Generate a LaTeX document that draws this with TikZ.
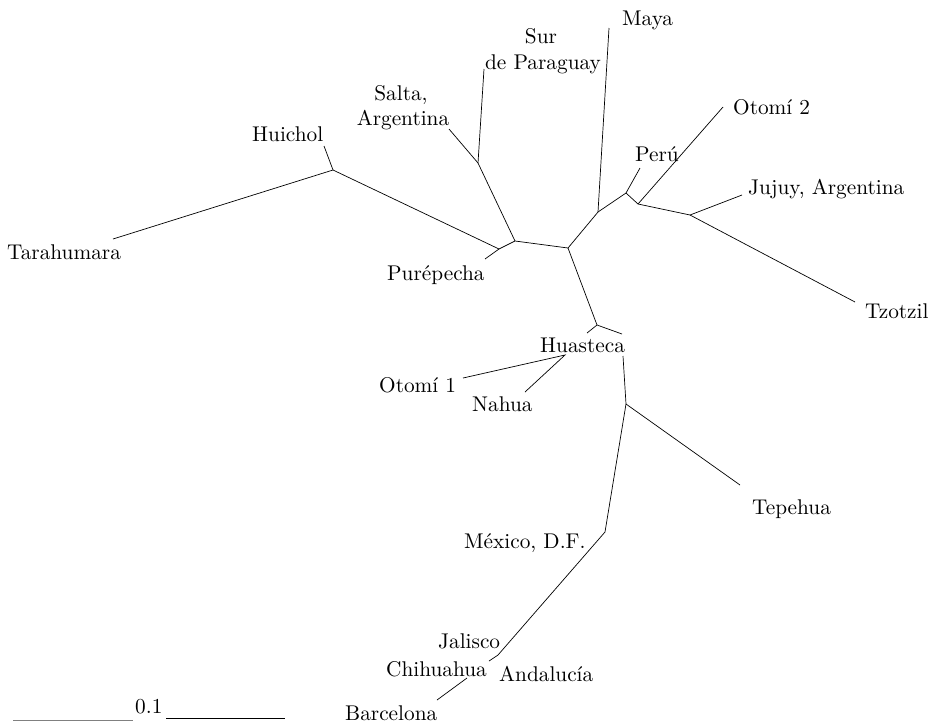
\documentclass[tikz,border=0pt]{standalone}
\usepackage{fontspec}
\setmainfont{lmroman10-regular.otf}
\begin{document}
\begin{tikzpicture}[x=1pt,y=-1pt,
  branch/.style={line width=0.7pt, black},
  lbl/.style={inner sep=0pt, font=\fontsize{21.3}{25}\selectfont},
  lw/.style={lbl, anchor=base west},
  lc/.style={lbl, anchor=base}]
\useasboundingbox (0,0) rectangle (934,724);
% coordinates
\coordinate (tara) at (113,239);
\coordinate (hui) at (333,170);
\coordinate (huileaf) at (324,146);
\coordinate (purj) at (499,249);
\coordinate (purleaf) at (485,259);
\coordinate (p1) at (515,241);
\coordinate (sp) at (478,163);
\coordinate (salta) at (449,129);
\coordinate (para) at (484,69);
\coordinate (c) at (568,248);
\coordinate (m) at (598,212);
\coordinate (maya) at (609,28);
\coordinate (pj) at (626,193);
\coordinate (peru) at (640,168);
\coordinate (o2j) at (638,204);
\coordinate (oto2) at (723,107);
\coordinate (jj) at (690,215);
\coordinate (jujuy) at (742,195);
\coordinate (tzo) at (855,302);
\coordinate (hj) at (597,325);
\coordinate (hleft) at (587,333);
\coordinate (hright) at (622,334);
\coordinate (hdown) at (623,356);
\coordinate (on) at (565,355);
\coordinate (oto1) at (463,378);
\coordinate (nahua) at (525,392);
\coordinate (tj) at (626,404);
\coordinate (tepe) at (740,485);
\coordinate (mx) at (605,532);
\coordinate (jal) at (498,655);
\coordinate (jal2) at (489,661);
\coordinate (chi) at (467,678);
\coordinate (bar) at (437,700);
\coordinate (s1a) at (13,720);
\coordinate (s1b) at (133,720);
\coordinate (s2a) at (166,718);
\coordinate (s2b) at (285,718);
% branches
\draw[branch] (tara) -- (hui) -- (purj) -- (p1) -- (c) -- (m) -- (pj) -- (o2j) -- (jj) -- (tzo);
\draw[branch] (hui) -- (huileaf);
\draw[branch] (purj) -- (purleaf);
\draw[branch] (p1) -- (sp) -- (para);
\draw[branch] (sp) -- (salta);
\draw[branch] (m) -- (maya);
\draw[branch] (pj) -- (peru);
\draw[branch] (o2j) -- (oto2);
\draw[branch] (jj) -- (jujuy);
\draw[branch] (c) -- (hj);
\draw[branch] (hleft) -- (hj) -- (hright);
\draw[branch] (oto1) -- (on) -- (nahua);
\draw[branch] (hdown) -- (tj) -- (tepe);
\draw[branch] (tj) -- (mx) -- (jal) -- (jal2);
\draw[branch] (chi) -- (bar);
% scale bar
\draw[line width=1pt, black!50] (s1a) -- (s1b);
\draw[line width=0.8pt] (s2a) -- (s2b);
\node[lw] (t01) at (135,713) {0.1};
% labels
\node[lw] (lmaya) at (622,25) {Maya};
\node[lc] (lsur) at (541,43) {Sur};
\node[lc] (lpar) at (543,69) {de Paraguay};
\node[lc] (lsalta) at (401,100) {Salta,};
\node[lc] (larg) at (403,125) {Argentina};
\node[lw] (lhui) at (252,141) {Huichol};
\node[lw] (ltara) at (7,259) {Tarahumara};
\node[lw] (lpur) at (387,280) {Purépecha};
\node[lw] (lperu) at (635,161) {Perú};
\node[lw] (loto2) at (733,114) {Otomí 2};
\node[lw] (ljuj) at (748,194) {Jujuy, Argentina};
\node[lw] (ltzo) at (865,318) {Tzotzil};
\node[lw] (lhua) at (540,352) {Huasteca};
\node[lw] (loto1) at (379,392) {Otomí 1};
\node[lw] (lnah) at (472,411) {Nahua};
\node[lw] (ltep) at (752,514) {Tepehua};
\node[lw] (lmex) at (464,548) {México, D.F.};
\node[lw] (ljal) at (438,648) {Jalisco};
\node[lw] (lchi) at (386,676) {Chihuahua};
\node[lw] (land) at (499,681) {Andalucía};
\node[lw] (lbar) at (345,720) {Barcelona};
\end{tikzpicture}
\end{document}
